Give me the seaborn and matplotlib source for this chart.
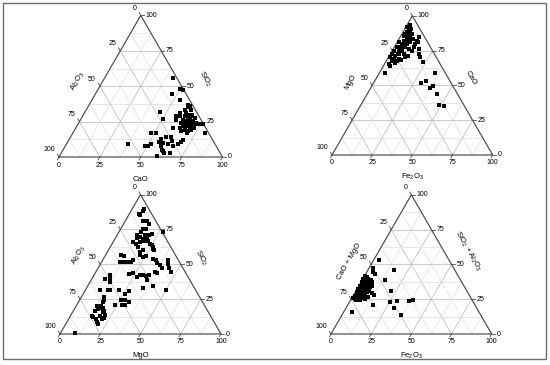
import numpy as np
import pandas as pd
import matplotlib
matplotlib.use("Agg")
import matplotlib.pyplot as plt
import seaborn as sns
from matplotlib.patches import Rectangle

# ---- data (wt. %) ----
# panel 1: CaO (bottom) / SiO2 (right) / Al2O3 (left = rest)
cao_1 = [42.1, 49.8, 52.3, 46.8, 53.8, 60.2, 61.5, 62.3, 60.1, 63.8, 46.0, 50.1, 57.2, 58.5, 62.4,
         65.0, 66.6, 62.5, 65.2, 66.6, 69.3, 62.7, 65.4, 66.8, 69.4, 72.0, 62.8, 65.1, 67.4, 69.2,
         71.5, 73.5, 74.9, 76.4, 65.0, 67.1, 69.7, 71.1, 67.2, 69.9, 71.3, 65.8, 69.5, 81.1, 58.6,
         63.6, 59.5, 48.0, 51.1, 56.3, 58.6, 61.7, 56.0, 58.7, 62.0, 66.0, 68.2, 69.7, 70.0, 37.7,
         48.9, 50.9, 51.6, 58.4, 60.1, 61.7, 62.9, 66.4, 59.5, 63.3, 59.5, 63.8, 72.3, 67.2]
sio2_1 = [55.7, 48.1, 47.6, 44.8, 40.1, 36.8, 35.4, 35.8, 33.5, 33.5, 31.6, 27.1, 29.2, 31.1, 31.1,
          30.0, 30.0, 28.8, 27.6, 28.8, 27.6, 26.4, 25.2, 26.4, 25.2, 24.1, 24.1, 23.6, 23.1, 23.6,
          23.1, 23.6, 23.1, 23.6, 21.7, 21.7, 20.5, 21.7, 19.3, 18.2, 19.3, 18.2, 17.0, 17.0, 26.4,
          20.5, 20.5, 17.0, 17.0, 12.7, 14.2, 14.2, 10.4, 9.9, 9.4, 7.5, 9.4, 10.4, 11.8, 9.4,
          8.0, 7.5, 9.0, 7.5, 5.2, 4.0, 2.8, 2.8, 0.9, 11.1, 28.8, 29.2, 20.5, 24.8]

# panel 2: Fe2O3 (bottom) / CaO (right) / MgO (left)
fe2o3_2 = [3.3, 4.4, 6.0, 6.5, 7.4, 1.0, 0.9, 1.8, 5.6, 6.1, 6.5, 6.8, 6.6, 6.5, 6.3, 3.0, 0.8, 1.5,
           11.6, 13.0, 11.8, 15.8, 17.6, 19.9, 23.1, 9.6, 11.6, 12.3, 12.1, 12.0, 34.4, 29.7, 32.0,
           38.0, 37.0, 43.6, 48.7, 51.7, 2.2, 4.4, 3.5, 5.7, 3.7, 4.7, 4.2, 3.8, 4.0, 4.0, 3.7, 8.3,
           10.5, 9.0, 8.3, 8.5, 3.4, 1.0, 2.6, 1.8, 1.4, 5.5, 5.0, 4.8, 4.1, 2.6]
cao_2 = [59.0, 63.8, 66.0, 67.4, 69.0, 72.6, 75.0, 77.4, 72.6, 75.0, 77.4, 79.8, 82.1, 84.5, 86.9,
         89.3, 91.7, 93.6, 84.5, 81.0, 82.1, 76.2, 72.6, 70.2, 66.9, 76.2, 71.4, 75.0, 77.4, 79.8,
         59.0, 51.7, 52.9, 49.3, 48.3, 43.6, 36.2, 35.5, 86.9, 84.5, 82.1, 79.8, 79.8, 88.1, 90.5,
         86.9, 77.4, 75.0, 71.4, 72.6, 70.2, 68.3, 81.0, 83.3, 67.9, 70.7, 88.1, 85.7, 81.0, 77.4,
         82.1, 72.6, 69.0, 65.5]

# panel 3: MgO (bottom) / SiO2 (right) / Al2O3 (left)
mgo_3 = [7.5, 7.0, 6.1, 7.1, 10.9, 13.4, 15.6, 27.3, 13.5, 14.0, 15.6, 17.2, 18.4, 20.1, 20.9,
         12.4, 13.2, 14.9, 17.6, 19.4, 12.5, 14.8, 16.7, 19.0, 21.7, 23.5, 25.1, 27.4, 28.4, 26.4,
         17.5, 20.3, 21.3, 21.5, 24.2, 25.4, 9.3, 12.0, 11.5, 13.5, 15.6, 18.1, 19.1, 40.9, 42.1,
         44.3, 46.3, 37.5, 39.5, 33.2, 31.2, 34.4, 21.5, 23.5, 27.0, 28.5, 30.8, 32.6, 34.6, 34.3,
         36.8, 38.5, 9.9, 11.3, 8.4, 12.5, 14.0, 15.1, 20.4, 27.8, 34.6, 40.4, 49.7, 26.0, 25.5,
         28.0, 31.7, 9.2, 14.1, 15.2, 15.2, 15.3, 23.7, 28.2, 29.9, 12.8, 14.8, 15.5, 16.4, 17.4,
         18.7, 21.1, 18.9, 13.3, 13.1, 14.7, 17.0, 18.4, 20.5, 18.6, 20.2, 21.7, 8.9]
sio2_3 = [89.4, 88.5, 86.3, 85.1, 80.8, 80.8, 78.9, 72.9, 73.1, 75.5, 75.5, 71.2, 70.7, 70.7, 71.9,
          71.2, 68.8, 69.5, 68.3, 68.8, 65.9, 64.7, 65.9, 66.4, 66.4, 64.7, 63.5, 61.2, 60.0, 62.4,
          62.4, 58.8, 60.0, 56.4, 55.2, 55.9, 56.8, 55.6, 51.6, 51.6, 51.6, 51.6, 52.8, 52.8, 50.4,
          47.2, 44.8, 49.2, 47.2, 52.8, 53.5, 51.1, 43.2, 43.9, 41.2, 42.4, 42.0, 41.5, 38.4, 42.4,
          44.4, 43.9, 42.4, 39.6, 39.6, 37.2, 31.9, 31.9, 31.9, 30.5, 33.3, 34.3, 31.7, 28.8, 24.7,
          24.7, 22.8, 31.2, 26.4, 24.2, 23.3, 19.9, 20.9, 20.9, 20.9, 19.9, 18.0, 18.5, 18.9, 18.9,
          15.6, 13.7, 16.8, 16.8, 13.2, 12.0, 10.8, 12.7, 10.8, 8.4, 7.2, 11.3, 0.7]

# panel 4: Fe2O3 (bottom) / SiO2 + Al2O3 (right) / CaO + MgO (left)
fe2o3_4 = [3.1, 2.7, 3.9, 5.8, 14.0, 15.8, 0.2, 1.8, 3.4, 0.3, 2.4, 5.7, 0.5, 2.7, 5.2, 7.9, 0.6,
           2.7, 4.8, 7.7, 0.8, 3.1, 5.1, 7.2, 1.0, 3.0, 5.1, 7.4, 1.1, 3.4, 5.9, 1.1, 3.0, 5.6,
           10.5, 13.0, 5.3, 7.1, 6.9, 10.0, 4.9, 21.7, 25.5, 28.9, 30.2, 36.6, 37.0, 38.8, 15.5,
           5.0, 7.5, 4.7, 3.4, 7.6, 2.3, 8.6]
sial_4 = [53.5, 47.2, 44.8, 43.2, 39.1, 46.3, 42.0, 40.8, 39.6, 39.6, 38.4, 37.2, 37.2, 36.0, 35.3,
          34.8, 34.8, 33.6, 32.9, 32.4, 32.4, 31.2, 30.5, 30.0, 30.0, 28.8, 28.1, 27.6, 27.6, 26.4,
          25.7, 25.7, 24.7, 24.7, 29.5, 28.1, 39.1, 37.2, 26.4, 26.4, 16.1, 31.2, 22.8, 24.0, 18.5,
          13.9, 23.5, 24.7, 20.9, 34.3, 33.6, 29.5, 27.1, 31.2, 25.2, 25.2]

tick_vals = [0, 25, 50, 75, 100]

plt.rcParams['font.family'] = ['Liberation Sans', 'DejaVu Sans']
plt.rcParams['mathtext.fontset'] = 'custom'
plt.rcParams['mathtext.rm'] = 'Liberation Sans'
plt.rcParams['mathtext.default'] = 'regular'

H = np.sqrt(3) / 2
W_PX, H_PX = 550, 365
fig = plt.figure(figsize=(5.5, 3.65), dpi=100)


def make_ax(bl_x, bl_y, width_px):
    # axes spanning x -30..130, y -25..100 with the triangle base at pixel (bl_x, bl_y)
    s = width_px / 100.0
    left = bl_x - 30 * s
    bottom = (H_PX - bl_y) - 25 * s
    ax = fig.add_axes([left / W_PX, bottom / H_PX, 160 * s / W_PX, 125 * s / H_PX])
    ax.set_xlim(-30, 130)
    ax.set_ylim(-25, 100)
    ax.set_axis_off()
    ax.patch.set_alpha(0)
    return ax


def ternary(ax, bottom, right, bname, rname, lname, lpos=(0.47, 13.5), rpos=(0.48, 13.5)):
    edge = '#4a4a4a'
    # grid lines
    for v in np.arange(12.5, 100, 12.5):
        c = '#bdbdbd' if v % 25 == 0 else '#e2e2e2'
        kw = dict(color=c, lw=0.55, zorder=1)
        ax.plot([v / 2, 100 - v / 2], [v * H, v * H], **kw)                    # const right
        ax.plot([v, v + (100 - v) / 2], [0, (100 - v) * H], **kw)               # const bottom
        ax.plot([100 - v, (100 - v) / 2], [0, (100 - v) * H], **kw)             # const left
    ax.plot([0, 100, 50, 0], [0, 0, 100 * H, 0], color=edge, lw=0.85, zorder=2,
            solid_joinstyle='miter')

    tl = 2.0
    for v in tick_vals:
        # bottom axis
        ax.plot([v, v - 0.5 * tl], [0, -H * tl], color=edge, lw=0.6)
        ax.text(v, -4.9, str(v), ha='center', va='center', fontsize=5)
        # right axis
        px, py = 100 - v / 2, v * H
        ax.plot([px, px + tl], [py, py], color=edge, lw=0.6)
        ax.text(px + 3.0, py, str(v), ha='left', va='center', fontsize=5)
        # left axis
        px, py = (100 - v) / 2, (100 - v) * H
        ax.plot([px, px - 0.5 * tl], [py, py + H * tl], color=edge, lw=0.6)
        ax.text(px - 2.6, py + 4.4, str(v), ha='right', va='center', fontsize=5)

    ax.text(50, -13.5, bname, ha='center', va='center', fontsize=5.5)
    f, d = lpos
    ax.text(50 * f - H * d, 100 * H * f + 0.5 * d, lname, rotation=60,
            ha='center', va='center', fontsize=5.5, rotation_mode='anchor')
    g, d = rpos
    ax.text(100 - 50 * g + H * d, 100 * H * g + 0.5 * d, rname, rotation=-60,
            ha='center', va='center', fontsize=5.5, rotation_mode='anchor')

    xb = np.asarray(bottom, float)
    yr = np.asarray(right, float)
    df = pd.DataFrame({'x': xb + yr / 2, 'y': yr * H})
    sns.scatterplot(data=df, x='x', y='y', marker='s', s=10, color='black',
                    linewidth=0, ax=ax, legend=False, zorder=3)
    ax.set_xlim(-30, 130)
    ax.set_ylim(-25, 100)
    ax.set_axis_off()


ax1 = make_ax(59, 157, 163.5)
ternary(ax1, cao_1, sio2_1, 'CaO', 'SiO$_2$', 'Al$_2$O$_3$', lpos=(0.46, 13.3), rpos=(0.47, 14.5))

ax2 = make_ax(332, 155, 160.7)
ternary(ax2, fe2o3_2, cao_2, 'Fe$_2$O$_3$', 'CaO', 'MgO', lpos=(0.45, 12.7), rpos=(0.485, 12.3))

ax3 = make_ax(60, 334, 161)
ternary(ax3, mgo_3, sio2_3, 'MgO', 'SiO$_2$', 'Al$_2$O$_3$', lpos=(0.48, 14.5), rpos=(0.47, 12.5))

ax4 = make_ax(331, 334, 160.7)
ternary(ax4, fe2o3_4, sial_4, 'Fe$_2$O$_3$', 'SiO$_2$ + Al$_2$O$_3$', 'CaO + MgO',
        lpos=(0.45, 12.5), rpos=(0.52, 12.6))

# outer frame
fig.add_artist(Rectangle((3 / W_PX, 6 / H_PX), 543 / W_PX, 356 / H_PX, transform=fig.transFigure,
                         fill=False, edgecolor='#6e6e6e', lw=1.0))

fig.savefig('out.png', dpi=100)
